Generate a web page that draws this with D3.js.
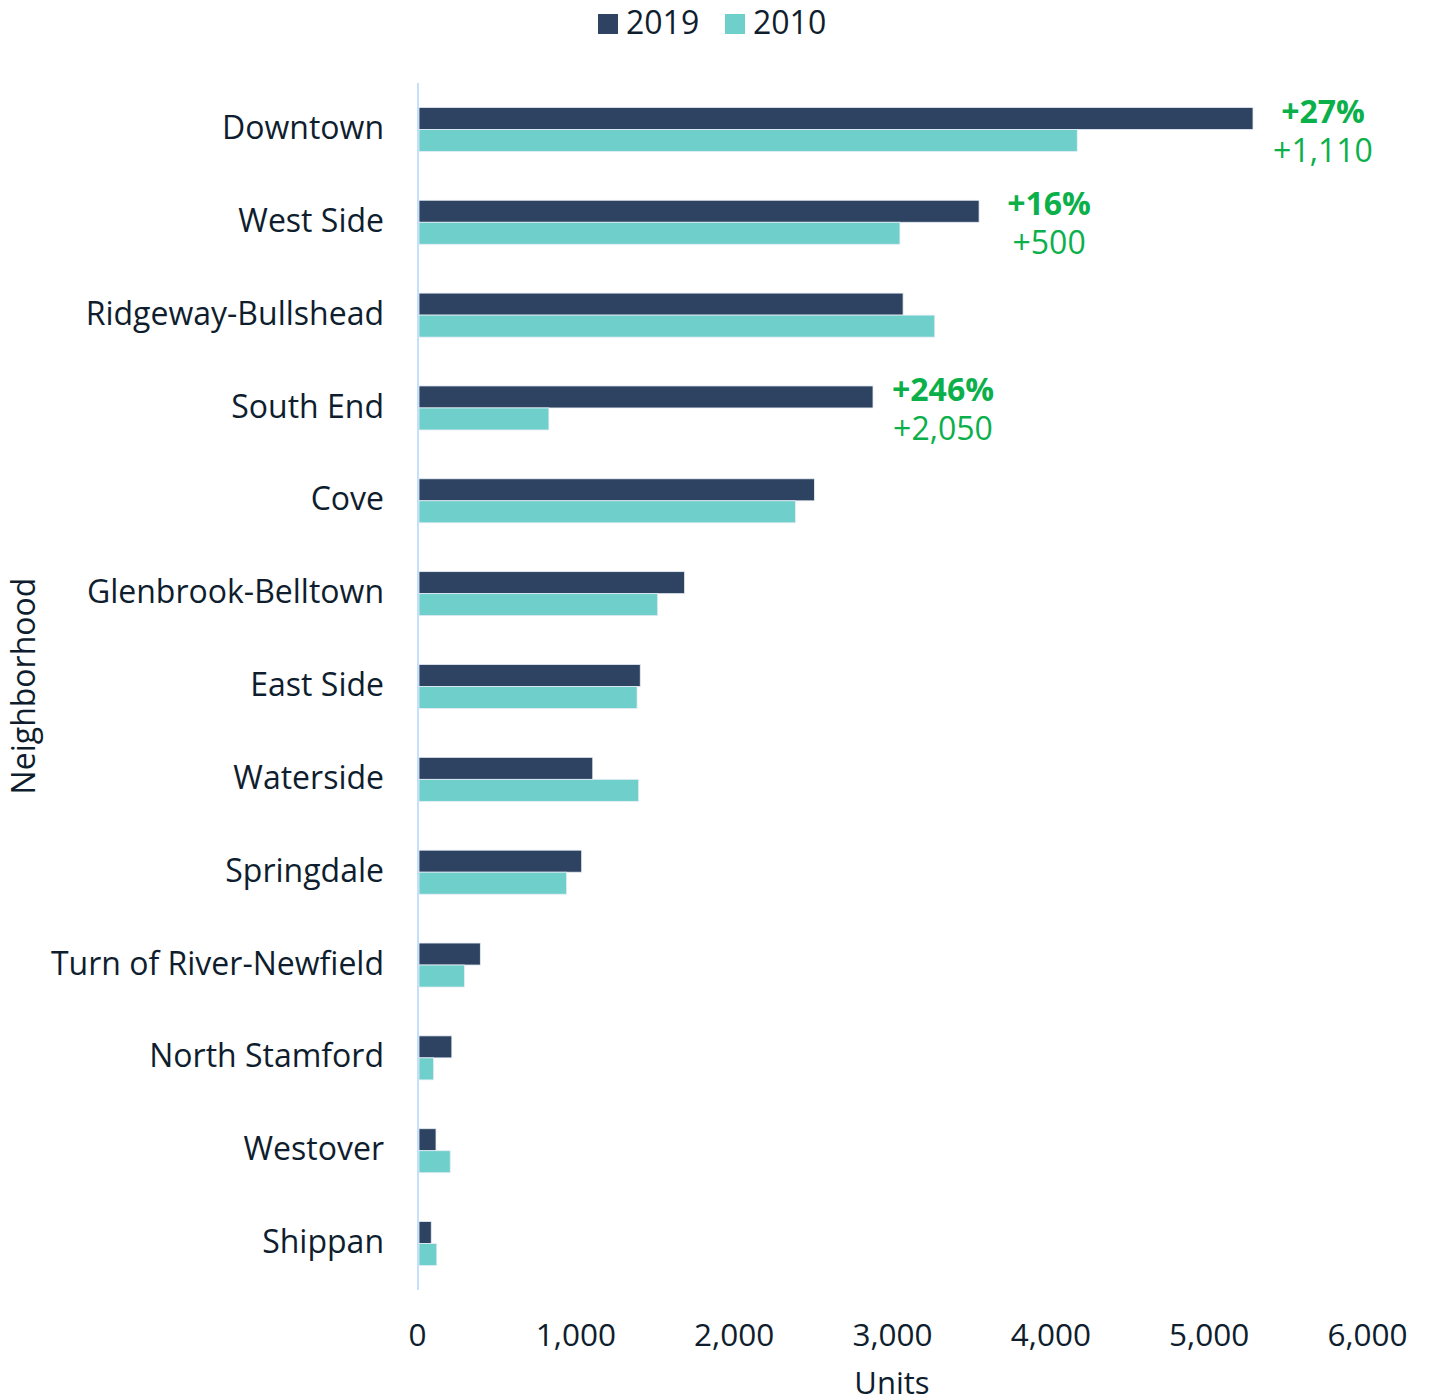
<!DOCTYPE html>
<html><head><meta charset="utf-8">
<script src="https://cdn.jsdelivr.net/npm/d3@7"></script>
<style>body{margin:0;background:#fff}text{font-family:"Open Sans",sans-serif}</style>
</head><body><svg id="c" width="1429" height="1400"></svg>
<script>
const categories=["Downtown","West Side","Ridgeway-Bullshead","South End","Cove","Glenbrook-Belltown","East Side","Waterside","Springdale","Turn of River-Newfield","North Stamford","Westover","Shippan"];
const values2019=[5280,3550,3070,2880,2510,1690,1410,1110,1040,400,220,120,90];
const values2010=[4170,3050,3270,833,2390,1520,1390,1400,945,300,105,210,125];
const seriesNames=["2019","2010"];
const xTicks=[0,1000,2000,3000,4000,5000,6000];
const annotations=[{cat:"Downtown",pct:"+27%",diff:"+1,110"},{cat:"West Side",pct:"+16%",diff:"+500"},{cat:"South End",pct:"+246%",diff:"+2,050"}];

const colors={"2019":"#2e4361","2010":"#6ecfcb"};
const textColor="#0f1e2e", green="#0bb04b";
const svg=d3.select("#c");
const m={left:417,right:62,top:83,bottom:110};
const W=1429,H=1400;
const x=d3.scaleLinear().domain([0,6000]).range([m.left,W-m.right]);
const y=d3.scaleBand().domain(categories).range([m.top,H-m.bottom]).paddingInner(0.526).paddingOuter(0.263);
const ys=d3.scaleBand().domain(seriesNames).range([0,y.bandwidth()]);
const data=categories.map((c,i)=>({c,"2019":values2019[i],"2010":values2010[i]}));

const g=svg.append("g");
seriesNames.forEach(s=>{
  g.selectAll("rect.s"+s).data(data).join("rect")
   .attr("x",x(0)+2).attr("y",d=>y(d.c)+ys(s)).attr("width",d=>x(d[s])-x(0)-2)
   .attr("height",ys.bandwidth()).attr("fill",colors[s])
   .attr("stroke","#e6edf5").attr("stroke-width",0.8);
});

// y axis
const ya=svg.append("g").attr("transform",`translate(${m.left+1},0)`).call(d3.axisLeft(y).tickSize(0).tickPadding(34));
ya.select(".domain").attr("stroke","#c4e0fb").attr("stroke-width",2).attr("d",`M0,${m.top}V${H-m.bottom}`);
ya.selectAll("text").attr("font-size",32).attr("fill",textColor).attr("font-family","Open Sans").attr("dy","0.3em");

// x axis
const xa=svg.append("g").attr("transform",`translate(0,${1335})`).call(d3.axisBottom(x).tickValues(xTicks).tickSize(0).tickPadding(0).tickFormat(d3.format(",")));
xa.select(".domain").remove();
xa.selectAll("text").attr("font-size",31.5).attr("fill",textColor).attr("dy","0.35em").attr("font-family","Open Sans");

svg.append("text").attr("x",(x(0)+x(6000))/2).attr("y",1383).attr("dy","0.35em").attr("text-anchor","middle").attr("font-size",31).attr("fill",textColor).text("Units");
svg.append("text").attr("transform",`translate(24,686) rotate(-90)`).attr("dy","0.35em").attr("text-anchor","middle").attr("font-size",32).attr("fill",textColor).text("Neighborhood");

// legend
const lg=svg.append("g");
[{s:"2019",x:598},{s:"2010",x:725}].forEach(o=>{
  lg.append("rect").attr("x",o.x).attr("y",14).attr("width",20).attr("height",20).attr("fill",colors[o.s]);
  lg.append("text").attr("x",o.x+28).attr("y",23).attr("dy","0.35em").attr("font-size",32).attr("fill",textColor).text(o.s);
});

// annotations
annotations.forEach(a=>{
  const i=categories.indexOf(a.cat);
  const cx=x(values2019[i])+70, cy=y(a.cat)+y.bandwidth()/2;
  svg.append("text").attr("x",cx).attr("y",cy-18).attr("dy","0.35em").attr("text-anchor","middle").attr("font-size",32).attr("font-weight","bold").attr("fill",green).text(a.pct);
  svg.append("text").attr("x",cx).attr("y",cy+21).attr("dy","0.35em").attr("text-anchor","middle").attr("font-size",32).attr("fill",green).text(a.diff);
});
</script></body></html>
